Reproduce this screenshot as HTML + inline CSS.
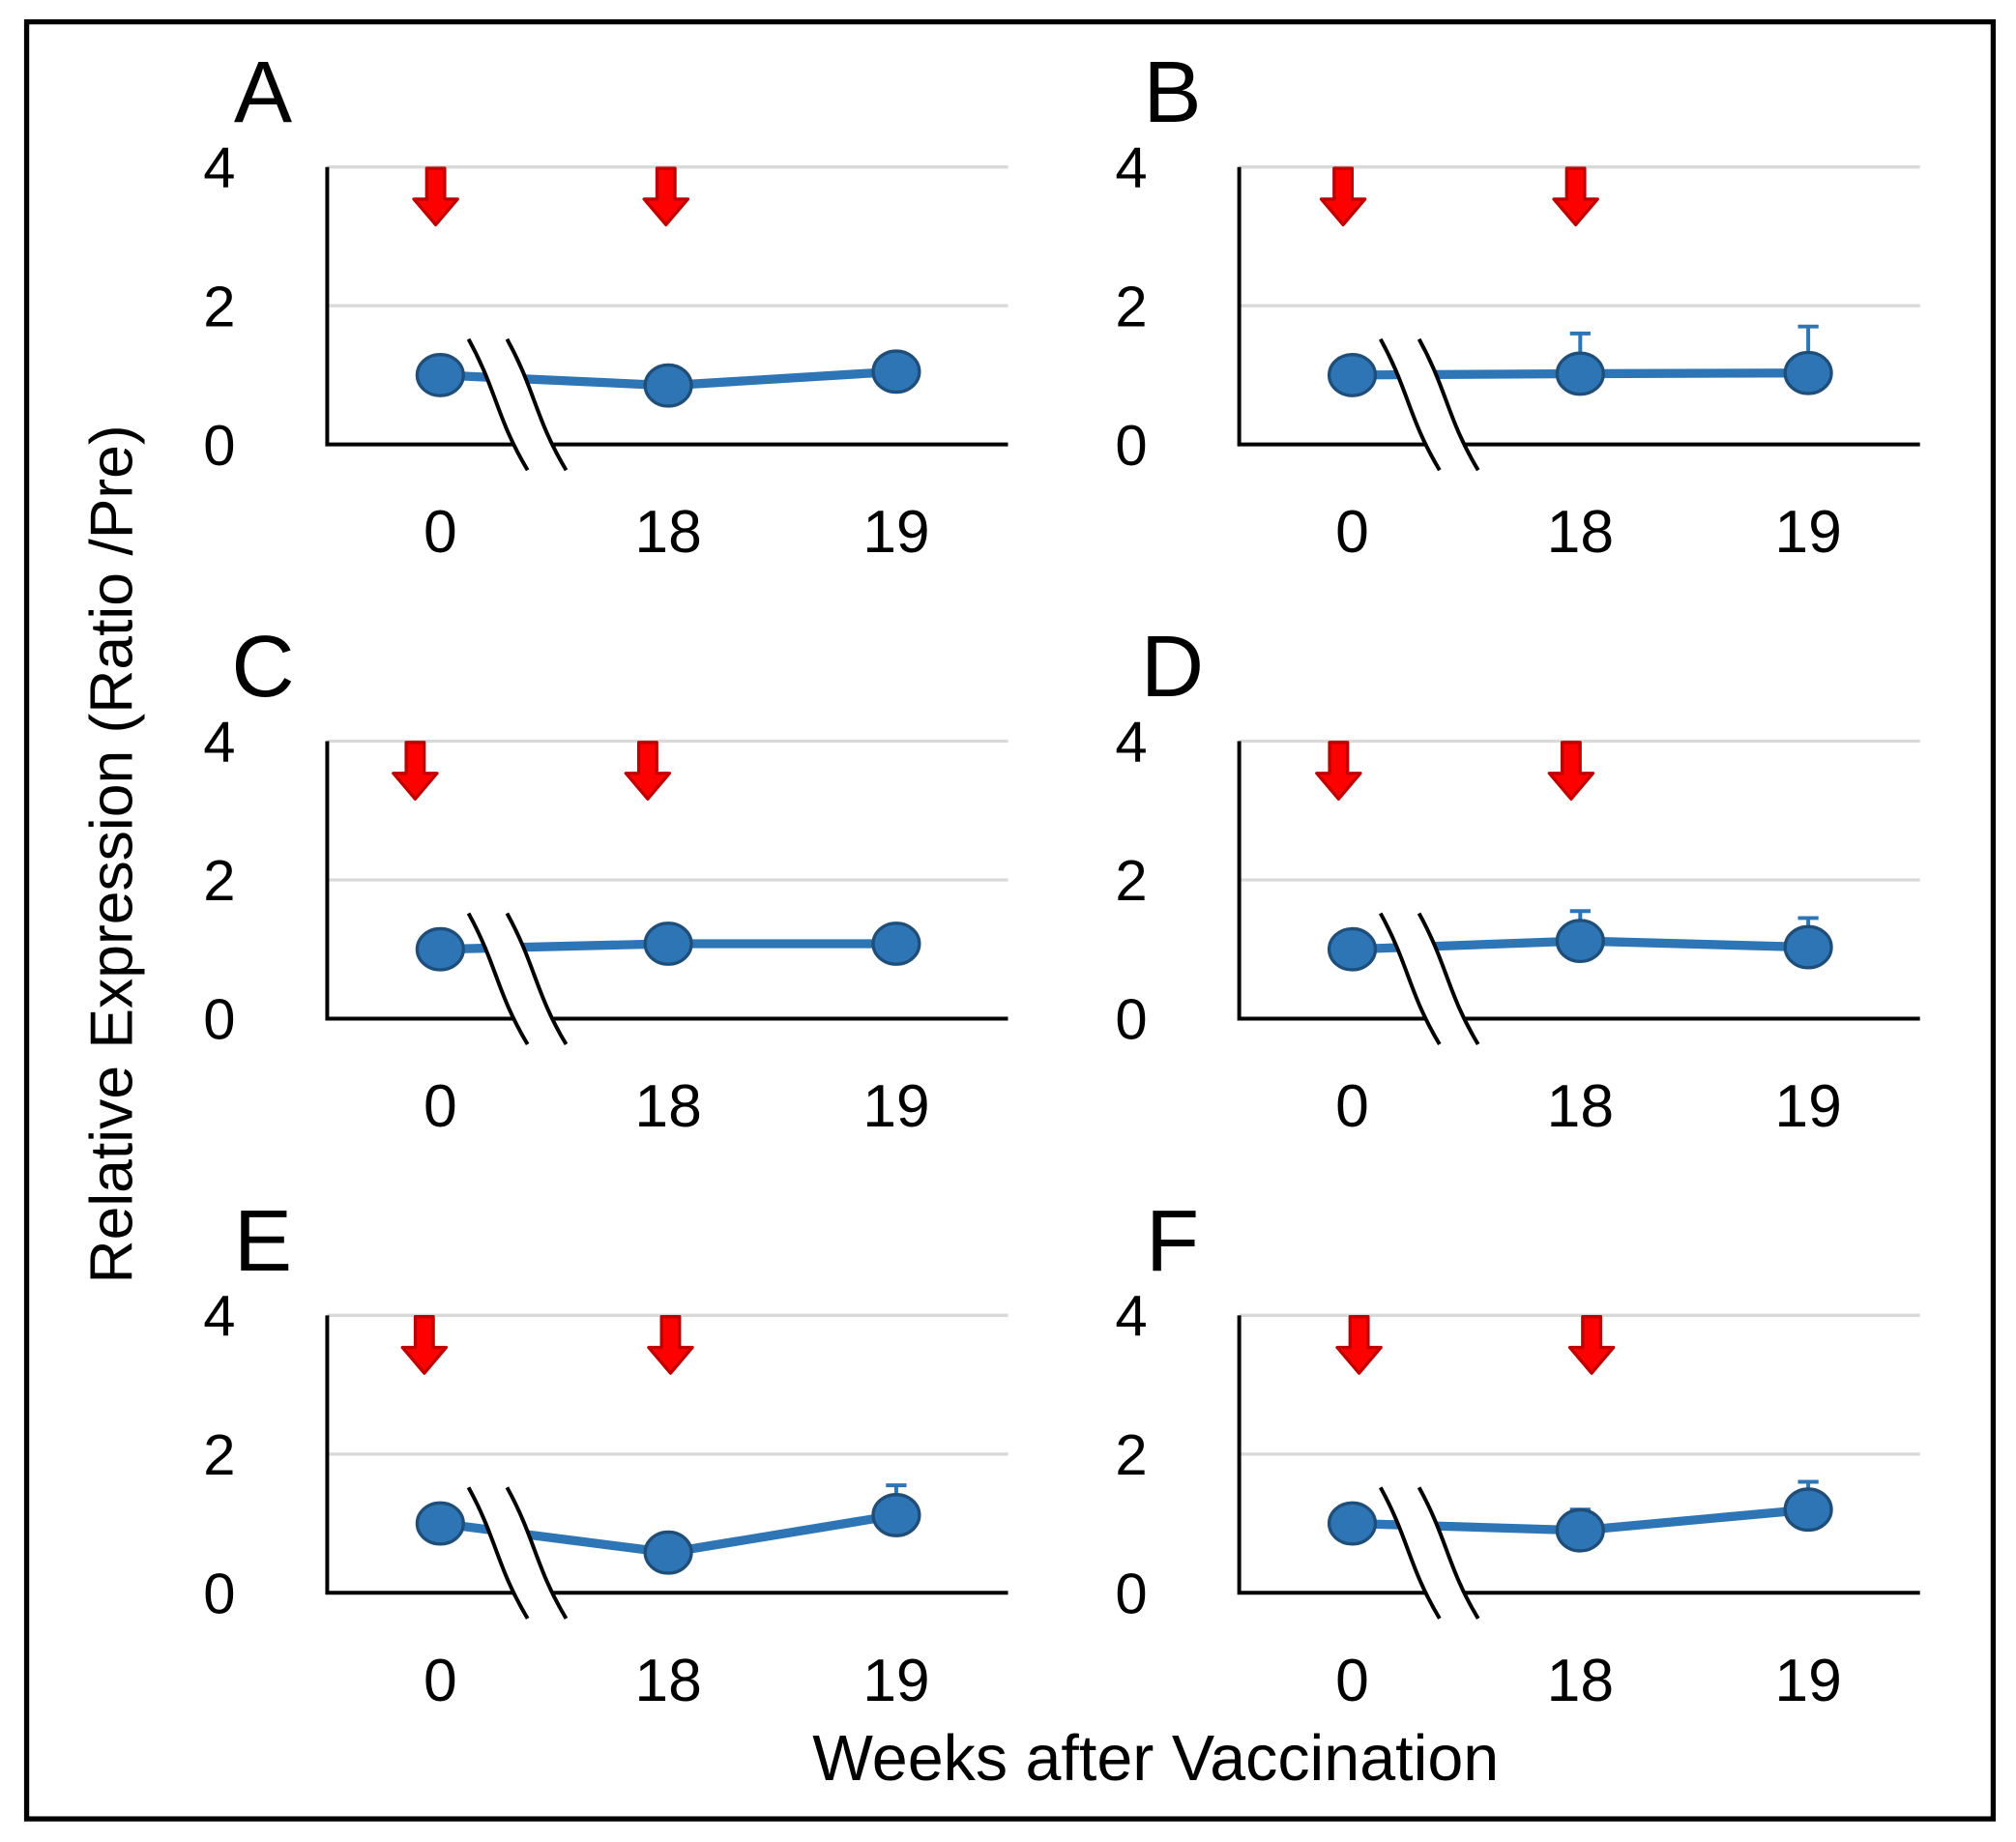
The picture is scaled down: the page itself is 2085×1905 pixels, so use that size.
<!DOCTYPE html>
<html><head><meta charset="utf-8"><style>
html,body{margin:0;padding:0;background:#fff}
svg{display:block}
text{font-family:"Liberation Sans",Arial,sans-serif;fill:#000}
</style></head><body>
<svg id="fig" width="2085" height="1905" viewBox="0 0 1568 1434" xmlns="http://www.w3.org/2000/svg">
<rect x="20" y="17" width="1531" height="1399" fill="#fff" stroke="#000" stroke-width="4"/>
<text transform="translate(102,665) rotate(-90)" text-anchor="middle" font-size="47">Relative Expression (Ratio /Pre)</text>
<text x="899" y="1386" text-anchor="middle" font-size="50">Weeks after Vaccination</text>
<g id="panels"></g>
</svg>
<script>
const panelLetters = ["A","B","C","D","E","F"];
const categories = ["0","18","19"];
const yTicks = [0,2,4];
const seriesValues = [
  [1.0,0.85,1.05],
  [1.0,1.02,1.03],
  [1.0,1.08,1.08],
  [1.0,1.12,1.03],
  [1.0,0.58,1.12],
  [1.0,0.90,1.20]
];
const errorUpper = [
  [1.0,1.0,1.05],
  [1.0,1.6,1.7],
  [1.0,1.08,1.08],
  [1.0,1.55,1.45],
  [1.0,0.58,1.55],
  [1.0,1.2,1.6]
];
const arrowWeeks = [
  [-0.02,-0.01],[-0.04,-0.02],[-0.11,-0.09],[-0.06,-0.04],[-0.07,0.01],[0.03,0.05]
];
const NS="http://www.w3.org/2000/svg";
const root=document.getElementById('panels');
function mk(tag,attrs,parent){const e=document.createElementNS(NS,tag);for(const k in attrs)e.setAttribute(k,attrs[k]);parent.appendChild(e);return e;}
panelLetters.forEach((L,i)=>{
  const col=i%2,row=Math.floor(i/2);
  const ax=254+col*710, right=784+col*710, top=130+row*447, bottom=346+row*447;
  const cx0=342+col*710, step=177.5;
  const xs=k=>cx0+k*step;
  const ys=v=>bottom-(v/4)*(bottom-top);
  const g=mk('g',{},root);
  
  
  const lt=mk('text',{x:204+col*708,y:top-35,'text-anchor':'middle','font-size':68},g);
  lt.textContent=L;
  
  
  yTicks.forEach(t=>{
    if(t>0){const gl=mk('line',{x1:ax,x2:right,y1:ys(t),y2:ys(t),stroke:'#d9d9d9','stroke-width':2.5},g);
      
      }
    const tx=mk('text',{x:170+col*710,y:ys(t)+16,'text-anchor':'middle','font-size':45},g);
    tx.textContent=t;
    
    
  });
  const axl=mk('path',{d:`M${ax},${top} V${bottom} H${right}`,fill:'none',stroke:'#000','stroke-width':3},g);
  
  
  categories.forEach((c,k)=>{
    const tx=mk('text',{x:xs(k),y:bottom+84,'text-anchor':'middle','font-size':47},g);
    tx.textContent=c;
    
    
  });
  arrowWeeks[i].forEach((w,k)=>{
    const x=xs(k)+w*step;
    const t=top+1, h=44;
    const a=mk('path',{d:`M${x-7},${t} H${x+7} V${t+24} H${x+17} L${x},${t+h} L${x-17},${t+24} H${x-7} Z`,fill:'#ff0000',stroke:'#c00000','stroke-width':2.5,'stroke-linejoin':'round'},g);
    
    
  });
  const vals=seriesValues[i];
  const pts=vals.map((v,k)=>xs(k)+','+ys(v)).join(' ');
  const pl=mk('polyline',{points:pts,fill:'none',stroke:'#2E75B6','stroke-width':7},g);
  
  
  const bt=ys(1)-28, bb=bottom+20, bx=cx0+22;
  const bk=mk('path',{d:`M${bx},${bt} C${bx+22},${bt+40} ${bx+22},${bb-40} ${bx+46},${bb} L${bx+76},${bb} C${bx+52},${bb-40} ${bx+52},${bt+40} ${bx+30},${bt} Z`,fill:'#fff',stroke:'none'},g);
  
  
  [0,30].forEach(o=>{
    const b=mk('path',{d:`M${bx+o},${bt} C${bx+o+22},${bt+40} ${bx+o+22},${bb-40} ${bx+o+46},${bb}`,fill:'none',stroke:'#000','stroke-width':3},g);
    
    
  });
  vals.forEach((v,k)=>{
    const eu=errorUpper[i][k];
    if(eu>v+0.05){
      const e=mk('path',{d:`M${xs(k)},${ys(v)} V${ys(eu)} M${xs(k)-8},${ys(eu)} H${xs(k)+8}`,stroke:'#2E75B6','stroke-width':3,fill:'none'},g);
      
      
    }
    const m=mk('ellipse',{cx:xs(k),cy:ys(v),rx:18,ry:16,fill:'#2E75B6',stroke:'#1F4E79','stroke-width':2.5},g);
    
    
  });
});
</script>
</body></html>
